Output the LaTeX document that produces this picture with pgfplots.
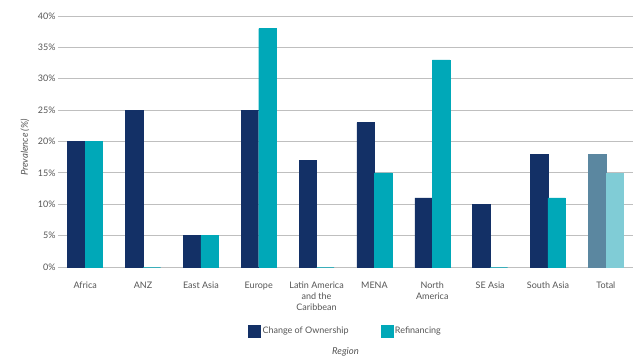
\documentclass[border=0pt]{standalone}
\usepackage{fontspec}
\setmainfont{Lato}
\usepackage{pgfplots}
\pgfplotsset{compat=1.18}
\definecolor{navy}{HTML}{133066}
\definecolor{teal2}{HTML}{00A8B8}
\definecolor{totdark}{HTML}{5B87A0}
\definecolor{totlight}{HTML}{80CCD6}
\definecolor{txt}{HTML}{555555}
\definecolor{gridc}{HTML}{BFBFBF}
\begin{document}
\begin{tikzpicture}[font=\fontsize{9bp}{11bp}\selectfont]
\path[use as bounding box] (-58bp,-97bp) rectangle (581bp,267bp);
\begin{axis}[
  at={(0,0)}, anchor=south west,
  scale only axis, width=575bp, height=251bp,
  xmin=-0.47, xmax=9.47, ymin=0, ymax=40,
  ytick={0,5,...,40},
  yticklabel={\pgfmathprintnumber{\tick}\%},
  /pgf/number format/assume math mode=true,
  xtick={0,...,9},
  xticklabels={Africa,ANZ,East Asia,Europe,{Latin America\\and the\\Caribbean},MENA,{North\\America},SE Asia,South Asia,Total},
  xticklabel style={align=center, text=txt, font=\fontsize{9bp}{11bp}\selectfont, yshift=-7bp},
  yticklabel style={text=txt, font=\fontsize{9bp}{11bp}\selectfont, xshift=1bp},
  tick style={draw=none},
  axis lines*=left,
  y axis line style={draw=none},
  x axis line style={draw=gridc, line width=0.8pt},
  ymajorgrids, grid style={gridc, line width=0.8pt},
  ybar, bar width=17.5bp,
  every axis x label/.style={at={(axis description cs:0.5,0)}, anchor=center, yshift=-85bp, font=\itshape\fontsize{9.5bp}{11bp}\selectfont, text=txt},
  every axis y label/.style={at={(axis description cs:0,0.5)}, xshift=-33bp, yshift=-6bp, rotate=90, anchor=center, font=\itshape\fontsize{9.5bp}{11bp}\selectfont, text=txt},
  xlabel={Region}, ylabel={Prevalence (\%)},
  legend columns=2,
  legend style={at={(0.5,0)}, anchor=north, yshift=-56bp, draw=none, fill=none, text=txt, font=\fontsize{9bp}{11bp}\selectfont, /tikz/every even column/.append style={column sep=30bp}},
  legend image code/.code={\fill[#1] (0bp,-6bp) rectangle (12bp,6bp);},
]
\addplot[fill=navy, draw=navy, line width=0.4pt, bar shift=-8.75bp] coordinates {(0,20) (1,25) (2,5) (3,25) (4,17) (5,23) (6,11) (7,10) (8,18)};
\addlegendentry{Change of Ownership}
\addplot[fill=teal2, draw=teal2, line width=0.4pt, bar shift=8.75bp] coordinates {(0,20) (1,0) (2,5) (3,38) (4,0) (5,15) (6,33) (7,0) (8,11)};
\addlegendentry{Refinancing}
\addplot[fill=totdark, draw=totdark, line width=0.4pt, bar shift=-8.75bp, forget plot] coordinates {(9,18)};
\addplot[fill=totlight, draw=totlight, line width=0.4pt, bar shift=8.75bp, forget plot] coordinates {(9,15)};
\end{axis}
\end{tikzpicture}
\end{document}
